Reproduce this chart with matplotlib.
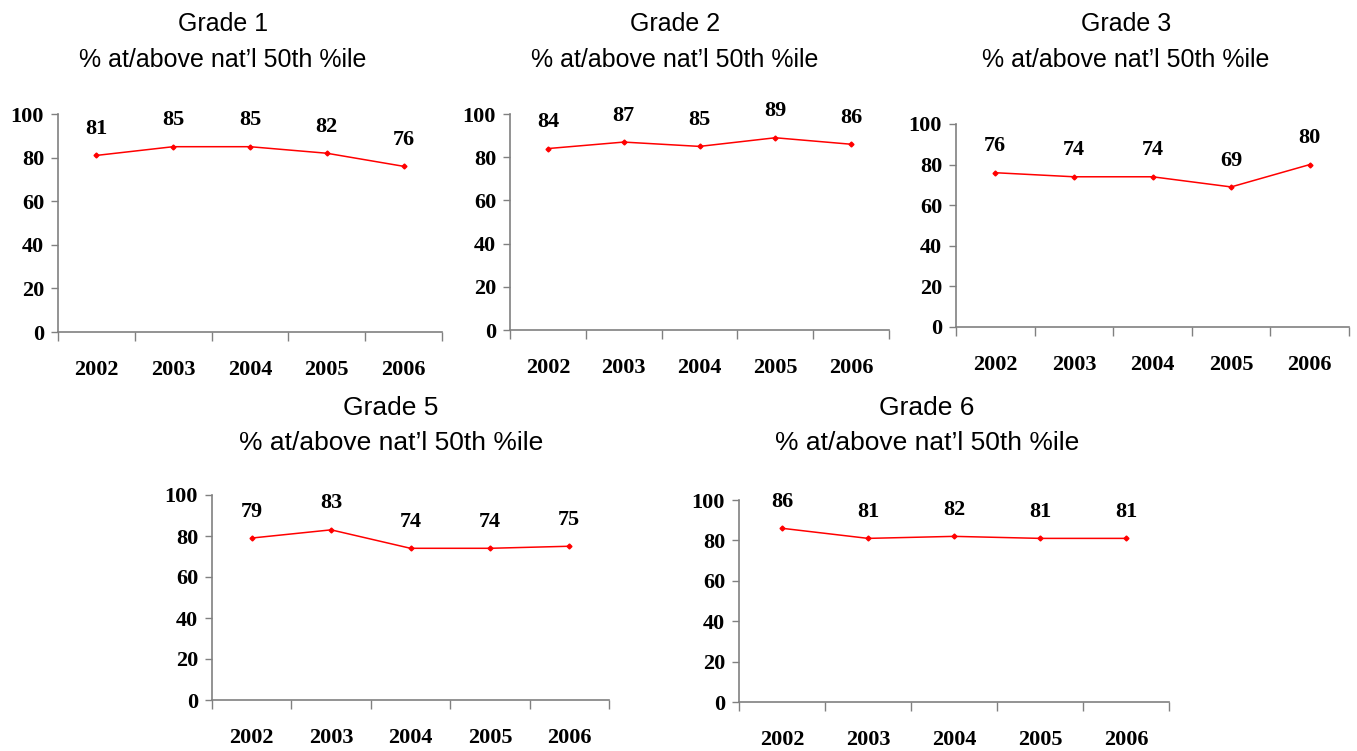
import matplotlib
matplotlib.use("Agg")
import matplotlib.pyplot as plt
import numpy as np

years = ["2002", "2003", "2004", "2005", "2006"]
grade1 = [81, 85, 85, 82, 76]
grade2 = [84, 87, 85, 89, 86]
grade3 = [76, 74, 74, 69, 80]
grade5 = [79, 83, 74, 74, 75]
grade6 = [86, 81, 82, 81, 81]
titles = ["Grade 1", "Grade 2", "Grade 3", "Grade 5", "Grade 6"]
subtitle = "% at/above nat\u2019l 50th %ile"
yticks = [0, 20, 40, 60, 80, 100]

W, H = 1357, 751
fig = plt.figure(figsize=(W / 100, H / 100), dpi=100)

# (left, right, top, bottom) in pixels
boxes = [(58, 442, 114, 332), (510, 889, 114, 330), (956, 1349, 124, 327),
         (212, 609, 495, 700), (739, 1169, 500, 702)]
title_pos = [(223, 24, 60, 18), (675, 24, 60, 18), (1126, 24, 60, 18),
             (391, 408, 443, 19), (927, 408, 443, 19)]
series = [grade1, grade2, grade3, grade5, grade6]

serif = dict(family="Liberation Serif", weight="bold", size=16)
axis_gray = "#808080"

for (l, r, t, b), vals, ttl, (tx, ty1, ty2, tfs) in zip(boxes, series, titles, title_pos):
    ax = fig.add_axes([l / W, 1 - b / H, (r - l) / W, (b - t) / H])
    x = np.arange(len(years))
    ax.plot(x, vals, color="#ff0000", lw=1.1, marker="D", ms=2.5)
    for xi, v in zip(x, vals):
        ax.annotate(str(v), (xi, v), xytext=(0, 19), textcoords="offset points",
                    ha="center", va="center", color="black", **serif)
    ax.set_xlim(-0.5, len(years) - 0.5)
    ax.set_ylim(0, 100)
    ax.set_yticks(yticks)
    ax.set_yticklabels([str(v) for v in yticks], fontdict=serif)
    ax.set_xticks(np.arange(-0.5, len(years), 1.0))
    ax.set_xticklabels([])
    ax.set_xticks(x, minor=True)
    ax.set_xticklabels(years, minor=True, fontdict=serif)
    ax.tick_params(axis="x", which="major", direction="out", length=6.5, width=1, color=axis_gray)
    ax.tick_params(axis="x", which="minor", length=0, pad=20)
    ax.tick_params(axis="y", direction="out", length=5, width=1, color=axis_gray, pad=5)
    for s in ["top", "right"]:
        ax.spines[s].set_visible(False)
    for s in ["left", "bottom"]:
        ax.spines[s].set_color(axis_gray)
        ax.spines[s].set_linewidth(1.2)
    ax.patch.set_alpha(0)
    fig.text(tx / W, 1 - ty1 / H, ttl, ha="center", va="center",
             family="Liberation Sans", size=tfs)
    fig.text(tx / W, 1 - ty2 / H, subtitle, ha="center", va="center",
             family="Liberation Sans", size=tfs)

fig.savefig("out.png", dpi=100)
